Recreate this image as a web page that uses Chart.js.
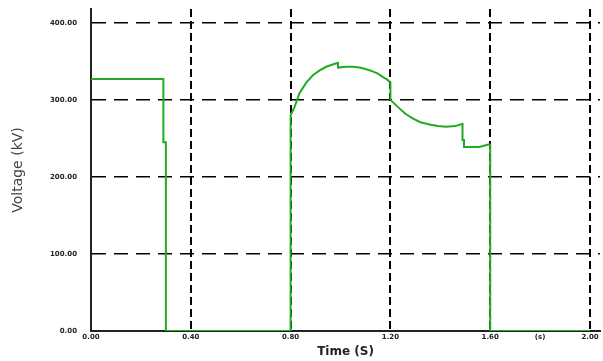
<!DOCTYPE html>
<html>
<head>
<meta charset="utf-8">
<script src="https://cdn.jsdelivr.net/npm/chart.js@4"></script>
<style>
  html, body { margin: 0; padding: 0; background: #fff; }
  #wrap { width: 603px; height: 361px; }
</style>
</head>
<body>
<div id="wrap"><canvas id="voltage-chart" width="603" height="361"></canvas></div>
<script>
// time (s) and voltage (kV)
const timeS = [0, 0.29, 0.29, 0.30, 0.30, 0.80, 0.80, 0.816, 0.836, 0.862, 0.889, 0.915, 0.943, 0.968, 0.99, 0.99,
  1.023, 1.05, 1.076, 1.10, 1.129, 1.15, 1.169, 1.189, 1.20, 1.20, 1.236, 1.26, 1.289, 1.32, 1.356, 1.39, 1.423,
  1.46, 1.489, 1.489, 1.495, 1.495, 1.556, 1.593, 1.60, 1.60, 2.0];
const voltageKV = [327, 327, 245, 245, 0, 0, 280, 291, 309, 322, 332, 338, 343, 346, 348, 342,
  343, 343, 342, 340, 337, 334, 330, 326, 322, 300, 289, 282, 276, 271, 268, 266, 265,
  266, 269, 248, 248, 239, 239, 242, 242, 0, 0];

const xTicks = [0, 0.2, 0.4, 0.6, 0.8, 1.0, 1.2, 1.4, 1.6, 1.8, 2.0];
const xTickLabels = ['0.00', '', '0.40', '', '0.80', '', '1.20', '', '1.60', '(s)', '2.00'];
const yTicks = [0, 100, 200, 300, 400];
const yTickLabels = ['0.00', '100.00', '200.00', '300.00', '400.00'];

new Chart(document.getElementById('voltage-chart'), {
  type: 'scatter',
  data: {
    datasets: [{
      data: timeS.map((t, i) => ({ x: t, y: voltageKV[i] })),
      showLine: true,
      borderColor: '#22aa22',
      borderWidth: 2,
      pointRadius: 0,
      tension: 0
    }]
  },
  options: {
    responsive: false,
    animation: false,
    layout: { padding: { left: 10, right: 3, top: 9, bottom: 2 } },
    plugins: { legend: { display: false }, tooltip: { enabled: false } },
    scales: {
      x: {
        type: 'linear',
        min: 0,
        max: 2.04,
        afterBuildTicks: s => { s.ticks = xTicks.map(v => ({ value: v })); },
        afterFit: s => { s.height = 28; },
        ticks: {
          autoSkip: false,
          maxRotation: 0,
          padding: 2,
          color: '#222',
          font: { family: 'DejaVu Sans', size: 7, weight: 'bold' },
          callback: (v, i) => xTickLabels[i]
        },
        grid: {
          color: c => (c.tick && Math.round(c.tick.value * 10) % 4 === 0 && c.tick.value > 0) ? '#000' : 'rgba(0,0,0,0)',
          lineWidth: 2,
          tickLength: 0
        },
        border: { display: true, color: '#222', width: 2, dash: [8, 4] },
        title: {
          display: true,
          text: 'Time (S)',
          color: '#222',
          font: { family: 'DejaVu Sans', size: 12, weight: 'bold' },
          padding: { top: 2, bottom: 0 }
        }
      },
      y: {
        min: 0,
        max: 418,
        afterBuildTicks: s => { s.ticks = yTicks.map(v => ({ value: v })); },
        afterFit: s => { s.width = 81; },
        ticks: {
          padding: 2,
          color: '#222',
          font: { family: 'DejaVu Sans', size: 7, weight: 'bold' },
          callback: (v, i) => yTickLabels[i]
        },
        grid: {
          color: c => (c.tick && c.tick.value > 0) ? '#000' : 'rgba(0,0,0,0)',
          lineWidth: 1.5,
          tickLength: 12,
          tickColor: 'rgba(0,0,0,0)'
        },
        border: { display: true, color: '#222', width: 2, dash: [14, 8] },
        title: {
          display: true,
          text: 'Voltage (kV)',
          color: '#444',
          font: { family: 'DejaVu Sans', size: 14 },
          padding: { top: 0, bottom: 4 }
        }
      }
    }
  }
});
</script>
</body>
</html>
